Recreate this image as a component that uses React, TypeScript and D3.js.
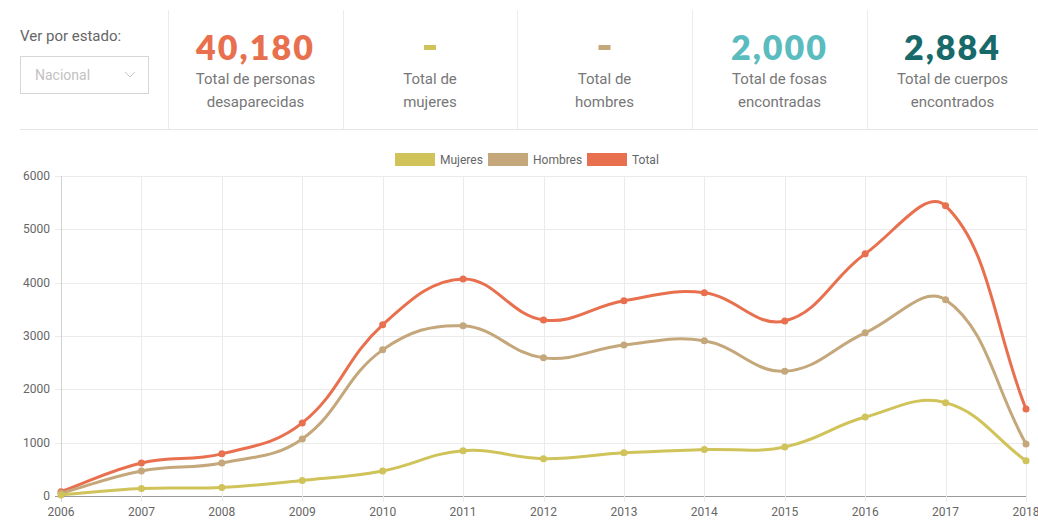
import React from "react";
import * as d3 from "d3";

const years = ["2006","2007","2008","2009","2010","2011","2012","2013","2014","2015","2016","2017","2018"];
const mujeres = [20, 140, 160, 290, 470, 850, 700, 810, 870, 920, 1480, 1750, 660];
const hombres = [50, 470, 620, 1070, 2740, 3190, 2590, 2830, 2910, 2340, 3060, 3680, 975];
const total = [80, 620, 790, 1370, 3210, 4070, 3300, 3660, 3810, 3280, 4540, 5440, 1630];
const yTicks = [0, 1000, 2000, 3000, 4000, 5000, 6000];

const seriesNames = ["Mujeres", "Hombres", "Total"];
const seriesColors = ["#cfc35a", "#c4a77a", "#e8704e"];

const statValues = ["40,180", "-", "-", "2,000", "2,884"];
const statColors = ["#e8704e", "#cfc35a", "#c4a77a", "#5bbcbf", "#17696a"];
const statLabels = [
  ["Total de personas", "desaparecidas"],
  ["Total de", "mujeres"],
  ["Total de", "hombres"],
  ["Total de fosas", "encontradas"],
  ["Total de cuerpos", "encontrados"],
];

const W = 1038, H = 529;
const plot = { left: 61, right: 1026, top: 176, bottom: 496 };

function splinePath(pts: [number, number][], t = 0.4): string {
  const p = d3.path();
  const cps: { pX: number; pY: number; nX: number; nY: number }[] = [];
  for (let i = 0; i < pts.length; i++) {
    const prev = pts[i > 0 ? i - 1 : i];
    const mid = pts[i];
    const next = pts[i < pts.length - 1 ? i + 1 : i];
    const d01 = Math.hypot(mid[0] - prev[0], mid[1] - prev[1]);
    const d12 = Math.hypot(next[0] - mid[0], next[1] - mid[1]);
    let s01 = d01 / (d01 + d12);
    let s12 = d12 / (d01 + d12);
    if (isNaN(s01)) s01 = 0;
    if (isNaN(s12)) s12 = 0;
    const fa = t * s01, fb = t * s12;
    cps.push({
      pX: mid[0] - fa * (next[0] - prev[0]),
      pY: mid[1] - fa * (next[1] - prev[1]),
      nX: mid[0] + fb * (next[0] - prev[0]),
      nY: mid[1] + fb * (next[1] - prev[1]),
    });
  }
  p.moveTo(pts[0][0], pts[0][1]);
  for (let i = 1; i < pts.length; i++) {
    p.bezierCurveTo(cps[i - 1].nX, cps[i - 1].nY, cps[i].pX, cps[i].pY, pts[i][0], pts[i][1]);
  }
  return p.toString();
}

export default function App() {
  const x = d3.scalePoint<string>().domain(years).range([plot.left, plot.right]);
  const y = d3.scaleLinear().domain([0, 6000]).range([plot.bottom, plot.top]);
  const data = [mujeres, hombres, total];
  const colX = [168, 343, 517, 692, 867, 1038];
  const font = "Roboto, 'Noto Sans', sans-serif";
  const legendX = [395, 488, 587];

  return (
    <div style={{ position: "absolute", left: 0, top: 0, width: W, height: H, background: "#fff" }}>
      <svg width={W} height={H} style={{ display: "block", fontFamily: font }}>
        {/* header */}
        <text x={20} y={41} fontSize={15} fill="#666">Ver por estado:</text>
        <rect x={20.5} y={56.5} width={128} height={37} fill="#fff" stroke="#d6d6d6" />
        <text x={35} y={80} fontSize={14} fill="#c2c2c2">Nacional</text>
        <path d="M125,72 l5,5 l5,-5" fill="none" stroke="#c8c8c8" strokeWidth={1} />
        {colX.slice(0, 5).map((cx, i) => (
          <line key={"sep" + i} x1={cx + 0.5} x2={cx + 0.5} y1={10} y2={129} stroke="#ececec" />
        ))}
        <line x1={20} x2={1038} y1={129.5} y2={129.5} stroke="#e6e6e6" />
        {statValues.map((v, i) => {
          const cx = (colX[i] + colX[i + 1]) / 2;
          return (
            <g key={"stat" + i}>
              {v === "-" ? (
                <rect x={cx - 6} y={45} width={12} height={5} fill={statColors[i]} />
              ) : (
                <text x={cx} y={60} textAnchor="middle" fontSize={34} fontWeight={800} letterSpacing={2}
                  fontFamily="Lato, 'Open Sans', sans-serif" fill={statColors[i]}>{v}</text>
              )}
              <text x={cx} y={84} textAnchor="middle" fontSize={15} fill="#777">{statLabels[i][0]}</text>
              <text x={cx} y={107} textAnchor="middle" fontSize={15} fill="#777">{statLabels[i][1]}</text>
            </g>
          );
        })}

        {/* legend */}
        {seriesNames.map((n, i) => (
          <g key={"lg" + i}>
            <rect x={legendX[i]} y={153} width={40} height={13} fill={seriesColors[i]} />
            <text x={legendX[i] + 45} y={163.5} fontSize={12} fill="#666">{n}</text>
          </g>
        ))}

        {/* grid */}
        {yTicks.map((t) => (
          <g key={"yt" + t}>
            <line x1={plot.left - 6} x2={plot.right} y1={Math.round(y(t)) + 0.5} y2={Math.round(y(t)) + 0.5}
              stroke={t === 0 ? "#9a9a9a" : "#ebebeb"} />
            <text x={plot.left - 11} y={y(t) + 4} textAnchor="end" fontSize={12} fill="#666">{t}</text>
          </g>
        ))}
        {years.map((yr) => (
          <g key={"xt" + yr}>
            <line x1={Math.round(x(yr)!) + 0.5} x2={Math.round(x(yr)!) + 0.5} y1={plot.top} y2={plot.bottom + 6}
              stroke={yr === years[0] ? "#d0d0d0" : "#ebebeb"} />
            <text x={x(yr)!} y={516} textAnchor="middle" fontSize={12} fill="#666">{yr}</text>
          </g>
        ))}

        {/* lines */}
        {[2, 1, 0].map((si) => {
          const pts = data[si].map((v, i) => [x(years[i])!, y(v)] as [number, number]);
          return (
            <g key={"s" + si}>
              <path d={splinePath(pts)} fill="none" stroke={seriesColors[si]} strokeWidth={3} />
              {pts.map((p, i) => (
                <circle key={i} cx={p[0]} cy={p[1]} r={3.5} fill={seriesColors[si]} />
              ))}
            </g>
          );
        })}
      </svg>
    </div>
  );
}
